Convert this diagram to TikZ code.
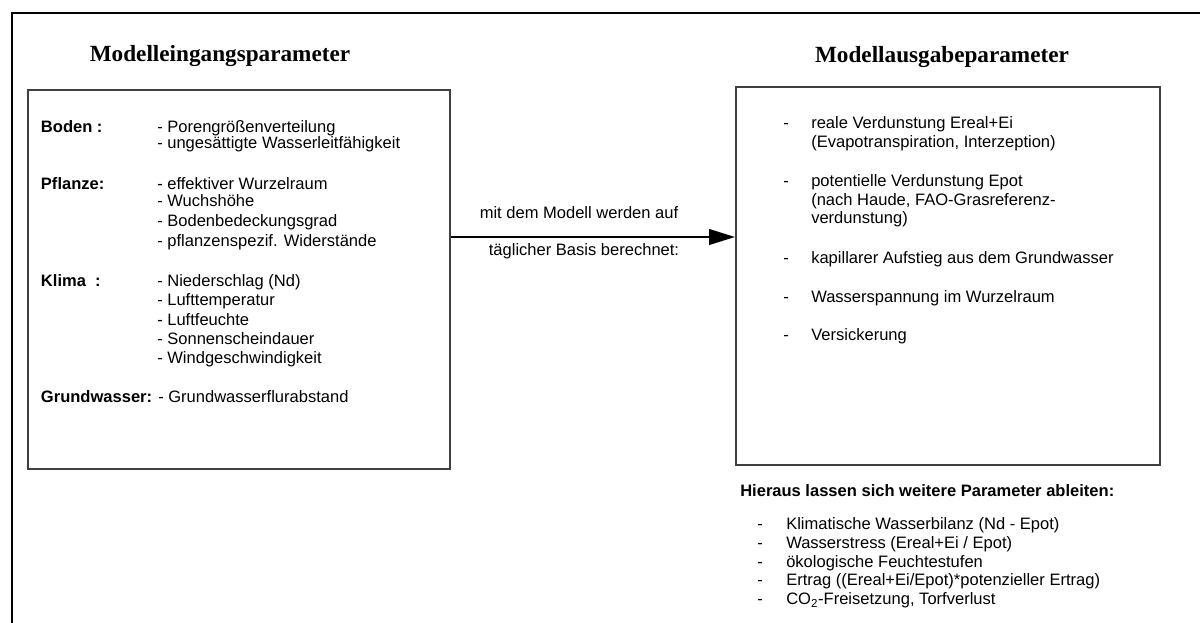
\documentclass[tikz,border=0pt]{standalone}
\usepackage{fontspec}
\setmainfont{Liberation Sans}
\newfontfamily\titlefont{Liberation Serif}
\usetikzlibrary{arrows.meta,positioning}

\begin{document}
\begin{tikzpicture}[x=0.75pt, y=-0.75pt,
  frame/.style={line width=1.5pt, black},
  panel/.style={rectangle, draw=black!75, line width=1.3pt, inner sep=0pt},
  heading/.style={font=\titlefont\fontsize{17.4}{20}\selectfont\bfseries,
                  inner sep=0pt, anchor=base},
  topic/.style={font=\fontsize{12.4}{14.4}\selectfont\bfseries,
                inner sep=0pt, anchor=base west},
  entry/.style={font=\fontsize{12.4}{14.4}\selectfont,
                inner sep=0pt, anchor=base west},
  flow/.style={draw, line width=2.1pt, -{Triangle[length=19.5pt, width=11.5pt]}},
]
  \useasboundingbox (0,0) rectangle (1200,623);

  % outer frame (only top and left edge visible)
  \draw[frame] (12,623) -- (12,13) -- (1200,13);

  % headings
  \node[heading] (intitle) at (220,61.5) {Modelleingangsparameter};
  \node[heading] (outtitle) at (942,63) {Modellausgabeparameter};

  % the two panels
  \node[panel, minimum width=316.5pt, minimum height=284.25pt] (inbox) at (239,279.5) {};
  \node[panel, minimum width=318pt, minimum height=283.5pt] (outbox) at (948,276) {};

  % input parameters
  \node[topic] (boden) at (40.7,133) {Boden :};
  \node[entry] (boden1) at (157,133) {- Porengrößenverteilung};
  \node[entry] (boden2) at (157,149) {- ungesättigte Wasserleitfähigkeit};

  \node[topic] (pflanze) at (40.7,190) {Pflanze:};
  \node[entry] (pflanze1) at (157,190) {- effektiver Wurzelraum};
  \node[entry] (pflanze2) at (157,207) {- Wuchshöhe};
  \node[entry] (pflanze3) at (157,226.5) {- Bodenbedeckungsgrad};
  \node[entry] (pflanze4) at (157,247) {- pflanzenspezif. Widerstände};

  \node[topic] (klima) at (40.7,287) {Klima\ \ :};
  \node[entry] (klima1) at (157,287) {- Niederschlag (Nd)};
  \node[entry] (klima2) at (157,306) {- Lufttemperatur};
  \node[entry] (klima3) at (157,325.5) {- Luftfeuchte};
  \node[entry] (klima4) at (157,345) {- Sonnenscheindauer};
  \node[entry] (klima5) at (157,364) {- Windgeschwindigkeit};

  \node[entry] (grundwasser) at (40.7,402.5) {\textbf{Grundwasser:} - Grundwasserflurabstand};

  % model run
  \coordinate (lvl) at (0,237);
  \draw[flow] (inbox.east |- lvl) -- (outbox.west |- lvl);
  \node[entry, anchor=base] (calc1) at (579,218.5) {mit dem Modell werden auf};
  \node[entry, anchor=base] (calc2) at (584,256) {täglicher Basis berechnet:};

  % output parameters
  \node[entry] (d1) at (783,128.7) {-};
  \node[entry] (out1) at (811,128.7) {reale Verdunstung Ereal+Ei};
  \node[entry] (out1b) at (811,147.5) {(Evapotranspiration, Interzeption)};
  \node[entry] (d2) at (783,187) {-};
  \node[entry] (out2) at (811,187) {potentielle Verdunstung Epot};
  \node[entry] (out2b) at (811,205.5) {(nach Haude, FAO-Grasreferenz-};
  \node[entry] (out2c) at (811,224) {verdunstung)};
  \node[entry] (d3) at (783,263.5) {-};
  \node[entry] (out3) at (811,263.5) {kapillarer Aufstieg aus dem Grundwasser};
  \node[entry] (d4) at (783,302.5) {-};
  \node[entry] (out4) at (811,302.5) {Wasserspannung im Wurzelraum};
  \node[entry] (d5) at (783,340.5) {-};
  \node[entry] (out5) at (811,340.5) {Versickerung};

  % derived parameters
  \node[topic] (derived) at (740,497) {Hieraus lassen sich weitere Parameter ableiten:};
  \node[entry] (e1) at (757,529.5) {-};
  \node[entry] (der1) at (786,529.5) {Klimatische Wasserbilanz (Nd - Epot)};
  \node[entry] (e2) at (757,548.5) {-};
  \node[entry] (der2) at (786,548.5) {Wasserstress (Ereal+Ei / Epot)};
  \node[entry] (e3) at (757,567) {-};
  \node[entry] (der3) at (786,567) {ökologische Feuchtestufen};
  \node[entry] (e4) at (757,585.5) {-};
  \node[entry] (der4) at (786,585.5) {Ertrag ((Ereal+Ei/Epot)*potenzieller Ertrag)};
  \node[entry] (e5) at (757,604.5) {-};
  \node[entry] (der5) at (786,604.5) {CO\textsubscript{2}-Freisetzung, Torfverlust};

\end{tikzpicture}
\end{document}
